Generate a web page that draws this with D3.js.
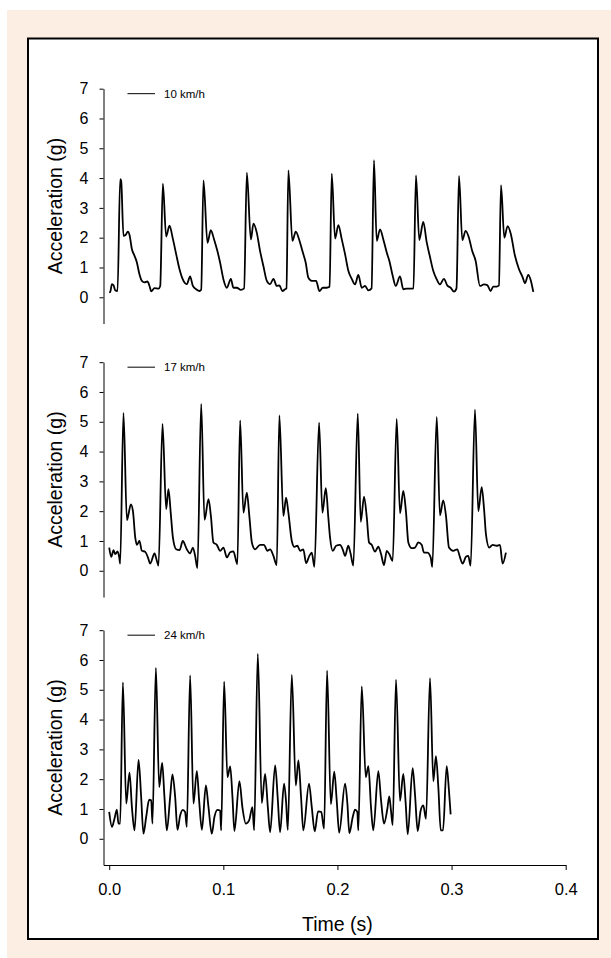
<!DOCTYPE html>
<html><head><meta charset="utf-8">
<script src="https://cdn.jsdelivr.net/npm/d3@7"></script>
<style>body{margin:0;background:#fff}svg{display:block}text{font-family:"Liberation Sans",Arial,sans-serif}</style>
</head><body><svg id="c" width="611" height="958"></svg>
<script>
const xTicks=[0,0.1,0.2,0.3,0.4];
const yTicks=[0,1,2,3,4,5,6,7];
const speeds=["10 km/h","17 km/h","24 km/h"];
const xTitle="Time (s)";
const yTitle="Acceleration (g)";

// 10 km/h
const t10=[0,0.0009,0.0024,0.0038,0.0053,0.0073,
0.0096,0.0105,0.0125,0.0143,0.0164,0.0178,0.0199,0.0222,0.0243,0.0265,0.0286,0.0309,0.0335,0.0353,0.0368,0.0397,0.0432,0.0447,
0.0470,0.0499,0.0528,0.0558,0.0587,0.0616,0.0651,0.0680,0.0709,0.0733,0.0762,0.0791,0.0806,
0.0826,0.0861,0.0890,0.0919,0.0948,0.0972,0.1001,0.1031,0.1066,0.1088,0.1118,0.1153,0.1182,
0.1206,0.1241,0.1264,0.1293,0.1322,0.1351,0.1381,0.1410,0.1439,0.1468,0.1491,0.1518,0.1541,0.1553,
0.1570,0.1605,0.1635,0.1664,0.1693,0.1722,0.1745,0.1775,0.1813,0.1842,0.1871,0.1906,0.1931,
0.1950,0.1979,0.2008,0.2037,0.2067,0.2096,0.2125,0.2154,0.2183,0.2213,0.2242,0.2271,0.2299,
0.2320,0.2344,0.2373,0.2402,0.2432,0.2455,0.2484,0.2511,0.2548,0.2577,0.2607,0.2644,0.2666,
0.2688,0.2717,0.2752,0.2782,0.2811,0.2840,0.2870,0.2898,0.2933,0.2962,0.2992,0.3021,0.3043,
0.3065,0.3094,0.3123,0.3152,0.3181,0.3211,0.3249,0.3284,0.3313,0.3342,0.3365,0.3395,0.3415,
0.3433,0.3462,0.3491,0.3520,0.3555,0.3590,0.3623,0.3643,0.3672,0.3693,0.3716];
const a10=[0.16,0.18,0.44,0.40,0.23,0.21,
3.96,3.90,2.06,2.09,2.20,2.09,1.61,1.39,1.16,0.77,0.55,0.50,0.53,0.38,0.20,0.31,0.29,0.38,
3.81,2.04,2.40,1.96,1.44,0.94,0.55,0.44,0.70,0.38,0.27,0.21,0.25,
3.92,1.83,2.25,1.94,1.55,1.16,0.60,0.32,0.62,0.32,0.32,0.25,0.30,
4.18,1.94,2.47,2.17,1.55,1.05,0.55,0.44,0.62,0.38,0.40,0.21,0.27,0.30,
4.26,1.89,2.20,1.94,1.55,1.16,0.66,0.55,0.55,0.21,0.32,0.32,0.35,
4.15,1.97,2.42,1.96,1.44,0.88,0.62,0.43,0.75,0.32,0.38,0.23,0.30,
4.60,1.89,2.28,1.94,1.50,1.22,0.72,0.38,0.70,0.27,0.29,0.29,0.30,
4.09,1.92,2.53,1.85,1.35,0.88,0.60,0.43,0.62,0.40,0.32,0.19,0.30,
4.07,1.92,2.23,2.00,1.55,1.22,0.38,0.43,0.41,0.21,0.36,0.36,0.40,
3.76,2.00,2.39,2.11,1.40,0.95,0.67,0.47,0.75,0.58,0.18];

// 17 km/h
const t17=[0.0000,0.0018,0.0038,0.0053,0.0073,0.0088,0.0096,
0.0125,0.0155,0.0169,0.0190,0.0208,0.0228,0.0243,0.0265,0.0286,0.0315,0.0339,0.0359,0.0397,0.0418,0.0432,
0.0467,0.0499,0.0519,0.0540,0.0558,0.0587,0.0616,0.0645,0.0680,0.0709,0.0733,0.0753,0.0773,
0.0806,0.0835,0.0870,0.0891,0.0913,0.0943,0.0972,0.1001,0.1031,0.1060,0.1088,0.1123,
0.1147,0.1176,0.1206,0.1229,0.1250,0.1278,0.1322,0.1357,0.1386,0.1410,0.1439,0.1468,
0.1491,0.1526,0.1550,0.1570,0.1600,0.1623,0.1649,0.1673,0.1701,0.1725,0.1754,0.1775,0.1798,
0.1839,0.1868,0.1898,0.1920,0.1935,0.1959,0.1988,0.2023,0.2046,0.2067,0.2095,0.2116,0.2139,
0.2178,0.2204,0.2233,0.2257,0.2277,0.2300,0.2329,0.2358,0.2382,0.2408,0.2432,0.2454,0.2484,
0.2519,0.2548,0.2577,0.2601,0.2621,0.2651,0.2680,0.2708,0.2738,0.2758,0.2787,0.2817,0.2831,
0.2870,0.2898,0.2927,0.2951,0.2977,0.3015,0.3050,0.3074,0.3097,0.3126,0.3146,0.3167,
0.3205,0.3234,0.3264,0.3286,0.3301,0.3330,0.3360,0.3395,0.3424,0.3447,0.3476];
const a17=[0.78,0.47,0.69,0.56,0.65,0.45,0.24,
5.30,1.70,1.90,2.23,2.00,1.12,0.87,1.00,0.67,0.64,0.45,0.24,0.58,0.33,0.17,
4.93,2.07,2.74,1.90,1.12,0.72,0.69,1.00,0.72,0.58,0.78,0.50,0.09,
5.60,1.71,2.40,1.84,0.95,0.87,0.67,0.78,0.45,0.62,0.65,0.22,
5.05,1.95,2.62,1.79,0.95,0.72,0.87,0.87,0.67,0.72,0.50,0.19,
5.21,1.84,2.45,1.95,1.00,0.80,0.84,0.67,0.72,0.26,0.50,0.61,0.13,
4.97,1.95,2.77,1.79,1.12,0.67,0.84,0.87,0.72,0.50,0.84,0.56,0.17,
5.27,1.64,2.49,1.79,0.95,0.87,0.64,0.81,0.56,0.19,0.67,0.56,0.33,
5.10,1.93,2.68,1.95,0.95,0.76,0.78,0.95,0.87,0.61,0.61,0.45,0.13,
5.16,1.86,2.36,1.84,0.78,0.67,0.72,0.45,0.24,0.47,0.50,0.17,
5.41,2.00,2.81,2.00,1.23,0.78,0.87,0.84,0.87,0.24,0.61];

// 24 km/h
const t24=[0.0000,0.0024,0.0046,0.0067,0.0081,0.0096,
0.0120,0.0149,0.0178,0.0199,0.0222,0.0257,0.0280,0.0300,0.0324,0.0350,0.0368,0.0379,
0.0409,0.0438,0.0464,0.0484,0.0505,0.0534,0.0554,0.0578,0.0598,0.0622,0.0645,0.0665,0.0680,
0.0709,0.0738,0.0768,0.0788,0.0812,0.0847,0.0870,0.0899,0.0922,0.0948,0.0972,0.0981,
0.1007,0.1036,0.1060,0.1080,0.1097,0.1141,0.1167,0.1197,0.1226,0.1255,0.1270,
0.1302,0.1337,0.1366,0.1390,0.1410,0.1454,0.1477,0.1497,0.1532,0.1550,0.1565,
0.1600,0.1635,0.1658,0.1681,0.1701,0.1751,0.1775,0.1801,0.1830,0.1858,0.1883,
0.1909,0.1942,0.1972,0.1994,0.2015,0.2067,0.2087,0.2104,0.2134,0.2154,0.2174,0.2183,
0.2213,0.2248,0.2271,0.2294,0.2314,0.2358,0.2382,0.2408,0.2437,0.2454,0.2469,0.2484,
0.2513,0.2548,0.2577,0.2598,0.2616,0.2659,0.2680,0.2703,0.2729,0.2752,0.2776,
0.2811,0.2840,0.2863,0.2884,0.2905,0.2925,0.2957,0.2977,0.2992];
const a24=[0.90,0.40,0.67,0.98,0.51,0.51,
5.25,1.18,2.22,1.06,0.28,2.65,1.40,0.17,0.73,1.31,1.29,0.51,
5.73,1.73,2.55,1.40,0.28,1.40,2.16,1.40,0.30,0.79,0.97,0.90,0.40,
5.48,1.18,2.27,1.29,0.30,1.79,1.06,0.17,0.73,0.97,0.95,0.28,
5.27,2.07,2.43,1.40,0.26,1.93,1.06,0.51,0.62,1.06,0.28,
6.20,1.20,2.18,1.06,0.22,2.46,1.34,0.22,1.85,1.23,0.30,
5.50,1.79,2.63,1.40,0.28,1.85,1.06,0.25,0.92,0.90,0.34,
5.64,1.16,2.25,1.26,0.20,1.85,1.18,0.19,0.73,0.98,0.90,0.28,
5.11,2.07,2.44,1.06,0.28,2.27,1.29,0.51,1.00,1.42,0.95,0.46,
5.34,1.27,2.18,1.18,0.15,2.37,1.46,0.26,0.95,1.12,0.67,
5.39,1.93,2.77,1.73,0.28,0.28,2.44,1.62,0.82];

const FONT='"Liberation Sans",Arial,Helvetica,sans-serif';
const svg=d3.select("#c");
svg.append("rect").attr("x",7).attr("y",10).attr("width",604).attr("height",948).attr("fill","#fdeee4");
svg.append("rect").attr("x",28).attr("y",38.5).attr("width",570).attr("height",900.5)
  .attr("fill","#fff").attr("stroke","#000").attr("stroke-width",2);

const x=d3.scaleLinear().domain([-0.005,0.4]).range([103.5,565.7]);
const panels=[
  {t:t10,a:a10,label:speeds[0],bottom:323.5},
  {t:t17,a:a17,label:speeds[1],bottom:597},
  {t:t24,a:a24,label:speeds[2],bottom:865}
];
const unit=29.8;
panels.forEach(p=>{
  const y=d3.scaleLinear().domain([-0.88,7]).range([p.bottom,p.bottom-7.88*unit]);
  const g=svg.append("g");
  const ax=g.append("g").attr("transform","translate(103.5,0)")
    .call(d3.axisLeft(y).tickValues(yTicks).tickFormat(d3.format("d")).tickSize(4).tickSizeOuter(0).tickPadding(11));
  ax.select(".domain").attr("stroke","#000").attr("stroke-width",1);
  ax.selectAll(".tick line").attr("stroke","#000");
  ax.selectAll("text").attr("font-size",16).attr("fill","#000").attr("font-family",FONT);
  g.append("text").attr("transform",`translate(62,${(y(7)+y(-0.88))/2}) rotate(-90)`)
    .attr("text-anchor","middle").attr("font-size",19.5).attr("fill","#000").text(yTitle);
  const ly=y(7)+5;
  g.append("line").attr("x1",127.5).attr("x2",155).attr("y1",ly).attr("y2",ly).attr("stroke","#000").attr("stroke-width",1);
  g.append("text").attr("x",164).attr("y",ly).attr("dy","0.35em").attr("font-size",11.5).attr("fill","#000").text(p.label);
  const data=p.t.map((t,i)=>[t,p.a[i]]);
  g.append("path").datum(data)
    .attr("d",d3.line().x(d=>x(d[0])).y(d=>y(d[1])).curve(d3.curveMonotoneX))
    .attr("fill","none").attr("stroke","#000").attr("stroke-width",1.8).attr("stroke-linejoin","round");
});

const xa=svg.append("g").attr("transform","translate(0,865)")
  .call(d3.axisBottom(x).tickValues(xTicks).tickFormat(d3.format(".1f")).tickSize(5).tickSizeOuter(0).tickPadding(13));
xa.select(".domain").attr("stroke","#000");
xa.selectAll(".tick line").attr("stroke","#000");
xa.selectAll("text").attr("font-size",16.5).attr("fill","#000").attr("font-family",FONT);
svg.append("text").attr("x",x(0.2)).attr("y",931).attr("text-anchor","middle").attr("font-size",19.5).attr("fill","#000").text(xTitle);
</script></body></html>
